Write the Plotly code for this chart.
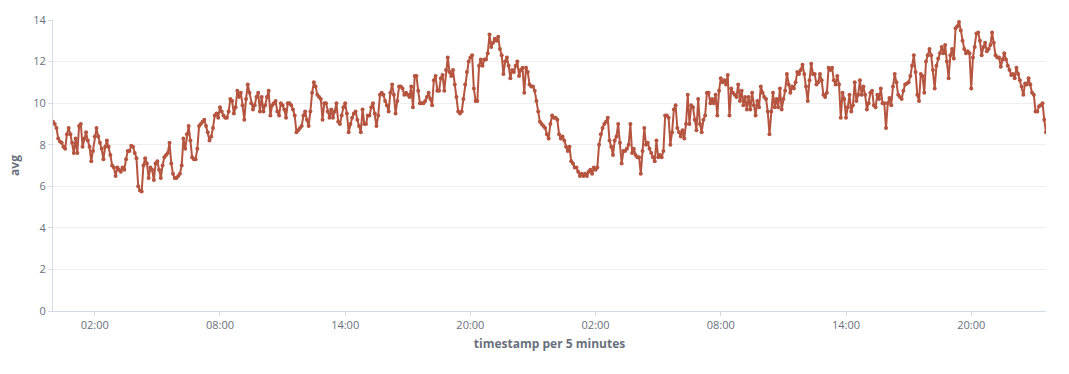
import pandas as pd
import plotly.graph_objects as go

# avg values, 5-minute buckets, 12 per hour
avg_day1 = [
    9.1, 9.0, 8.8, 8.3, 8.15, 8.1, 7.9, 7.8, 8.5, 8.8, 8.5, 8.1,
    7.6, 8.3, 7.6, 8.9, 9.0, 7.9, 8.3, 8.6, 8.2, 7.9, 7.2, 7.7,
    8.4, 8.8, 8.4, 8.1, 7.8, 7.3, 7.9, 8.2, 7.9, 7.5, 7.0, 6.9,
    6.5, 6.9, 6.8, 6.7, 6.9, 6.8, 7.3, 7.7, 7.7, 7.95, 7.9, 7.6,
    7.35, 6.0, 5.8, 5.75, 7.0, 7.35, 7.1, 6.4, 6.9, 6.8, 6.3, 7.1,
    7.2, 6.8, 6.4, 7.0, 7.4, 7.5, 7.6, 8.1, 7.1, 6.6, 6.4, 6.4,
    6.5, 6.6, 7.0, 8.3, 7.8, 8.5, 8.9, 8.2, 7.4, 7.3, 7.3, 7.8,
    8.9, 9.0, 9.1, 9.2, 8.9, 8.6, 8.2, 8.4, 8.8, 9.4, 9.5, 9.3,
    9.8, 9.6, 9.4, 9.3, 9.3, 9.6, 10.2, 10.1, 9.5, 9.8, 10.6, 10.3,
    10.5, 9.9, 9.2, 10.2, 10.9, 10.5, 10.0, 9.7, 9.9, 10.3, 10.5, 9.6,
    10.3, 9.6, 9.9, 10.3, 10.6, 9.4, 9.9, 10.0, 10.1, 9.6, 9.4, 10.0,
    9.9, 9.7, 9.3, 10.0, 10.0, 9.9, 9.7, 9.4, 8.6, 8.7, 8.8, 8.9,
    9.4, 9.6, 9.2, 8.9, 9.6, 10.5, 11.0, 10.8, 10.4, 10.3, 10.2, 9.2,
    10.0, 10.0, 9.6, 9.3, 9.7, 9.3, 9.6, 10.0, 9.1, 9.0, 9.4, 9.8,
    10.0, 9.5, 8.6, 9.0, 9.3, 9.5, 9.6, 9.2, 8.9, 8.6, 9.7, 9.0,
    9.0, 9.4, 9.4, 9.8, 10.0, 9.5, 8.9, 9.4, 10.4, 10.5, 10.4, 10.1,
    9.9, 9.6, 10.5, 10.9, 10.4, 9.5, 10.1, 10.8, 10.8, 10.7, 10.4, 10.5,
    10.4, 10.3, 10.8, 9.8, 11.3, 11.3, 10.6, 10.0, 10.0, 10.0, 10.1, 10.3,
    10.5, 10.2, 9.9, 11.1, 11.3, 10.6, 10.6, 11.2, 11.35, 10.6, 11.6, 12.2,
    11.5, 11.3, 11.6, 10.9, 10.3, 9.6, 9.5, 9.6, 10.2, 10.9, 11.5, 12.0,
    12.2, 12.3, 10.7, 10.1, 10.1, 11.8, 12.1, 11.8, 12.1, 12.1, 12.4, 13.3,
    12.7, 12.9, 13.1, 13.0, 13.2, 12.6, 12.3, 11.4, 12.0, 12.2, 11.8, 11.2,
    11.6, 11.5, 11.8, 12.0, 11.3, 11.6, 11.7, 10.5, 11.7, 11.5, 10.9, 10.8,
    10.8, 10.6, 10.1, 9.6, 9.1, 9.0, 8.9, 8.8, 8.5, 8.3, 9.0, 9.4,
]

avg_day2 = [
    9.3, 9.3, 9.2, 8.5, 8.3, 8.4, 8.2, 7.9, 7.7, 7.9, 7.2, 7.1,
    6.9, 6.9, 6.7, 6.5, 6.6, 6.5, 6.6, 6.5, 6.7, 6.8, 6.6, 6.9,
    6.8, 6.9, 8.0, 8.5, 8.8, 9.0, 9.1, 9.3, 8.2, 7.9, 7.5, 8.2,
    8.4, 9.0, 8.1, 7.1, 7.7, 7.7, 7.8, 8.0, 9.0, 7.6, 7.8, 7.5,
    7.4, 7.4, 6.6, 7.7, 8.8, 8.0, 8.1, 7.8, 7.6, 7.4, 7.2, 8.2,
    7.4, 7.5, 7.4, 7.7, 9.4, 9.4, 9.3, 8.0, 8.6, 9.7, 9.9, 8.8,
    8.6, 8.4, 8.7, 8.3, 9.0, 10.4, 9.0, 9.9, 9.8, 9.2, 8.7, 10.2,
    9.0, 8.6, 9.2, 9.4, 10.5, 10.5, 10.0, 10.2, 10.0, 10.4, 9.4, 10.6,
    11.2, 11.0, 11.1, 10.9, 11.35, 9.4, 10.7, 10.5, 10.4, 10.3, 10.9, 10.1,
    10.6, 9.9, 10.3, 9.7, 10.3, 9.7, 10.5, 9.9, 9.4, 10.1, 9.8, 10.8,
    10.5, 10.3, 10.2, 9.6, 8.5, 9.6, 10.5, 9.8, 10.2, 9.8, 10.7, 9.7,
    10.2, 10.6, 11.4, 10.9, 10.5, 10.8, 10.7, 11.0, 11.5, 11.4, 11.6, 11.85,
    11.4, 10.8, 10.1, 11.1, 11.9, 11.4, 11.4, 10.9, 11.0, 11.4, 11.1, 10.4,
    10.3, 10.5, 11.7, 11.6, 11.7, 11.1, 10.9, 11.3, 10.9, 9.3, 10.5, 10.2,
    9.3, 9.8, 10.4, 9.6, 9.9, 11.0, 10.1, 10.4, 11.1, 10.4, 10.8, 10.4,
    9.7, 10.0, 10.5, 10.6, 9.9, 9.8, 10.4, 10.2, 10.7, 10.0, 10.0, 8.8,
    10.0, 10.25, 9.9, 10.8, 11.4, 11.0, 10.4, 10.3, 10.2, 10.6, 10.9, 10.95,
    11.0, 11.3, 11.8, 12.3, 11.5, 10.4, 10.1, 11.4, 11.3, 10.5, 12.0, 12.3,
    12.6, 12.3, 11.6, 10.7, 11.8, 12.15, 12.4, 12.7, 12.4, 12.8, 12.0, 11.2,
    12.3, 12.6, 12.15, 13.6, 13.7, 13.9, 13.5, 13.0, 12.6, 12.4, 12.5, 12.4,
    10.7, 12.2, 12.7, 13.35, 13.4, 13.0, 12.3, 12.7, 12.9, 12.5, 12.6, 12.8,
    13.4, 12.9, 12.3, 12.2, 12.2, 11.75, 12.1, 12.4, 12.1, 11.8, 11.6, 11.35,
    11.4, 11.2, 11.7, 11.4, 11.1, 10.8, 10.4, 10.95, 10.9, 11.2, 10.9, 10.5,
    10.4, 9.6, 9.6, 9.85, 9.9, 10.0, 9.2, 8.6,
]

avg_values = avg_day1 + avg_day2
timestamps = pd.date_range("2024-01-01 00:00", periods=len(avg_values), freq="5min")

y_ticks = [0, 2, 4, 6, 8, 10, 12, 14]

LINE = "#B5543F"
TEXT = "#69707D"
GRID = "#EEEEEE"
AXIS = "#D3DAE6"

fig = go.Figure()
fig.add_trace(go.Scatter(
    x=timestamps,
    y=avg_values,
    mode="lines+markers",
    line=dict(color=LINE, width=2),
    marker=dict(color=LINE, size=4),
    hoverinfo="x+y",
    showlegend=False,
))

fig.update_layout(
    width=1069,
    height=374,
    margin=dict(l=53, r=23, t=20, b=63),
    paper_bgcolor="white",
    plot_bgcolor="white",
    font=dict(family="Open Sans, Roboto, sans-serif", size=11, color=TEXT),
)

fig.update_xaxes(
    range=[timestamps[0], timestamps[-1]],
    tick0="2024-01-01 02:00",
    dtick=6 * 3600 * 1000,
    tickformat="%H:%M",
    showgrid=False,
    zeroline=False,
    showline=True,
    linecolor=AXIS,
    linewidth=1,
    ticks="outside",
    ticklen=4,
    tickcolor=AXIS,
    tickfont=dict(size=11, color=TEXT),
    title=dict(text="<b>timestamp per 5 minutes</b>", font=dict(size=12, color=TEXT), standoff=8),
)

fig.update_yaxes(
    range=[0, 14],
    tickvals=y_ticks,
    showgrid=True,
    gridcolor=GRID,
    gridwidth=1,
    zeroline=False,
    showline=True,
    linecolor=AXIS,
    linewidth=1,
    ticks="outside",
    ticklen=4,
    tickcolor=AXIS,
    tickfont=dict(size=11, color=TEXT),
    title=dict(text="<b>avg</b>", font=dict(size=12, color=TEXT), standoff=11),
)

fig.write_html("out.html")
